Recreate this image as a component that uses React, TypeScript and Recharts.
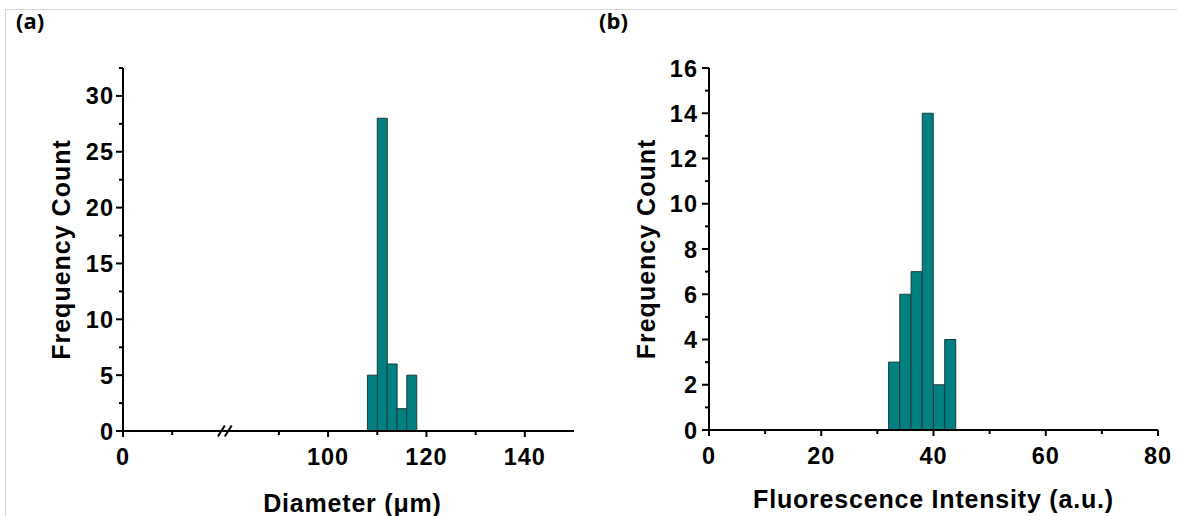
import React from 'react';
import { BarChart, Bar, XAxis, YAxis, ReferenceLine, Label } from 'recharts';

// ---------- Panel (a): Diameter histogram ----------
const diameterBinStart = [108, 110, 112, 114, 116];
const diameterCounts = [5, 28, 6, 2, 5];
const diameterBinWidth = 2;
const diameterMajorTicks = [0, 100, 120, 140];
const diameterMinorTicks = [10, 90, 110, 130];
const diameterBreakFrom = 20;
const diameterBreakTo = 80;
const diameterAxisMax = 150;
const countMaxA = 32.5;
const countMajorTicksA = [0, 5, 10, 15, 20, 25, 30];
const countMinorTicksA = [2.5, 7.5, 12.5, 17.5, 22.5, 27.5, 32.5];

// ---------- Panel (b): Fluorescence histogram ----------
const intensityBinStart = [32, 34, 36, 38, 40, 42];
const intensityCounts = [3, 6, 7, 14, 2, 4];
const intensityBinWidth = 2;
const intensityMajorTicks = [0, 20, 40, 60, 80];
const intensityMinorTicks = [10, 30, 50, 70];
const intensityAxisMax = 80;
const countMaxB = 16;
const countMajorTicksB = [0, 2, 4, 6, 8, 10, 12, 14, 16];
const countMinorTicksB = [1, 3, 5, 7, 9, 11, 13, 15];

// visual gap of the axis break, in axis units
const BREAK_GAP = 1.7;
const mapBroken = (v: number) =>
  v <= diameterBreakFrom ? v : v - (diameterBreakTo - diameterBreakFrom) + BREAK_GAP;
const unmapBroken = (t: number) =>
  t <= diameterBreakFrom ? t : t + (diameterBreakTo - diameterBreakFrom) - BREAK_GAP;

const dataA = diameterBinStart.map((s, i) => ({
  x: mapBroken(s + diameterBinWidth / 2),
  count: diameterCounts[i],
}));
const dataB = intensityBinStart.map((s, i) => ({
  x: s + intensityBinWidth / 2,
  count: intensityCounts[i],
}));

const FONT = "'Liberation Sans', Arial, Helvetica, sans-serif";
const BAR_FILL = '#008080';
const BAR_STROKE = '#1d3d3d';

const near = (arr: number[], v: number) => arr.some((m) => Math.abs(m - v) < 1e-6);

function makeXTick(majors: number[], fmt: (v: number) => string) {
  return (props: any) => {
    const { x, y, payload } = props;
    const v = payload.value as number;
    const isMajor = near(majors, v);
    return (
      <g>
        <line x1={x} x2={x} y1={y} y2={y + (isMajor ? 6 : 4)} stroke="#000" strokeWidth={2} />
        {isMajor && (
          <text
            x={x}
            y={y + 34}
            textAnchor="middle"
            fontFamily={FONT}
            fontWeight="bold"
            fontSize={23.5}
            letterSpacing={1}
            fill="#000"
          >
            {fmt(v)}
          </text>
        )}
      </g>
    );
  };
}

function makeYTick(majors: number[], gap: number) {
  return (props: any) => {
    const { x, y, payload } = props;
    const v = payload.value as number;
    const isMajor = near(majors, v);
    return (
      <g>
        <line x1={x - (isMajor ? 7 : 4)} x2={x} y1={y} y2={y} stroke="#000" strokeWidth={2} />
        {isMajor && (
          <text
            x={x - gap}
            y={y + 8.5}
            textAnchor="end"
            fontFamily={FONT}
            fontWeight="bold"
            fontSize={23.5}
            letterSpacing={1}
            fill="#000"
          >
            {String(v)}
          </text>
        )}
      </g>
    );
  };
}

const yTitle = (offsetX: number) => (props: any) => {
  const vb = props.viewBox;
  const cx = vb.x + offsetX;
  const cy = vb.y + vb.height / 2;
  return (
    <text
      x={cx}
      y={cy}
      transform={`rotate(-90, ${cx}, ${cy})`}
      textAnchor="middle"
      fontFamily={FONT}
      fontWeight="bold"
      fontSize={25}
      letterSpacing={1}
      fill="#000"
    >
      Frequency Count
    </text>
  );
};

const xTitle = (text: string, dx: number, baseline: number) => (props: any) => {
  const vb = props.viewBox;
  return (
    <text
      x={vb.x + vb.width / 2 + dx}
      y={vb.y + baseline}
      textAnchor="middle"
      fontFamily={FONT}
      fontWeight="bold"
      fontSize={25}
      letterSpacing={0.8}
      fill="#000"
    >
      {text}
    </text>
  );
};

const axisLineStyle = { stroke: '#000', strokeWidth: 2 };

export default function App() {
  const xTicksA = [...diameterMajorTicks, ...diameterMinorTicks]
    .map(mapBroken)
    .sort((a, b) => a - b);
  const xMajorsA = diameterMajorTicks.map(mapBroken);
  const yTicksA = [...countMajorTicksA, ...countMinorTicksA].sort((a, b) => a - b);
  const xTicksB = [...intensityMajorTicks, ...intensityMinorTicks].sort((a, b) => a - b);
  const yTicksB = [...countMajorTicksB, ...countMinorTicksB].sort((a, b) => a - b);

  const breakCenters = [mapBroken(diameterBreakFrom) + 0.0, mapBroken(diameterBreakFrom) + 1.4];

  return (
    <div style={{ position: 'absolute', left: 0, top: 0, width: 1177, height: 516, background: '#fff', overflow: 'hidden' }}>
      <div style={{ position: 'absolute', left: 0, top: 0 }}>
        <BarChart
          width={600}
          height={516}
          data={dataA}
          margin={{ top: 68, right: 26, bottom: 0, left: 0 }}
          barCategoryGap={0}
          barGap={0}
        >
          <XAxis
            dataKey="x"
            type="number"
            domain={[0, mapBroken(diameterAxisMax)]}
            ticks={xTicksA}
            interval={0}
            allowDataOverflow
            height={85}
            axisLine={axisLineStyle}
            tickLine={false}
            tickSize={0}
            tickMargin={0}
            tick={makeXTick(xMajorsA, (t) => String(Math.round(unmapBroken(t))))}
          >
            <Label content={xTitle('Diameter (μm)', 4, 80.5)} />
          </XAxis>
          <YAxis
            type="number"
            domain={[0, countMaxA]}
            ticks={yTicksA}
            interval={0}
            allowDataOverflow
            width={123}
            axisLine={axisLineStyle}
            tickLine={false}
            tickSize={0}
            tickMargin={0}
            tick={makeYTick(countMajorTicksA, 9)}
          >
            <Label content={yTitle(70)} />
          </YAxis>
          <Bar dataKey="count" fill={BAR_FILL} stroke={BAR_STROKE} strokeWidth={1} isAnimationActive={false} />
          {breakCenters.map((c, i) => (
            <ReferenceLine
              key={i}
              segment={[
                { x: c - 0.7, y: -0.5 },
                { x: c + 0.7, y: 0.5 },
              ]}
              stroke="#000"
              strokeWidth={2}
              ifOverflow="visible"
            />
          ))}
        </BarChart>
      </div>
      <div style={{ position: 'absolute', left: 600, top: 0 }}>
        <BarChart
          width={577}
          height={516}
          data={dataB}
          margin={{ top: 68, right: 19, bottom: 0, left: 0 }}
          barCategoryGap={0}
          barGap={0}
        >
          <XAxis
            dataKey="x"
            type="number"
            domain={[0, intensityAxisMax]}
            ticks={xTicksB}
            interval={0}
            allowDataOverflow
            height={86}
            axisLine={axisLineStyle}
            tickLine={false}
            tickSize={0}
            tickMargin={0}
            tick={makeXTick(intensityMajorTicks, (v) => String(v))}
          >
            <Label content={xTitle('Fluorescence Intensity (a.u.)', 0, 78)} />
          </XAxis>
          <YAxis
            type="number"
            domain={[0, countMaxB]}
            ticks={yTicksB}
            interval={0}
            allowDataOverflow
            width={109}
            axisLine={axisLineStyle}
            tickLine={false}
            tickSize={0}
            tickMargin={0}
            tick={makeYTick(countMajorTicksB, 11)}
          >
            <Label content={yTitle(55)} />
          </YAxis>
          <Bar dataKey="count" fill={BAR_FILL} stroke={BAR_STROKE} strokeWidth={1} isAnimationActive={false} />
        </BarChart>
      </div>
      <svg
        width={1177}
        height={516}
        style={{ position: 'absolute', left: 0, top: 0, pointerEvents: 'none' }}
      >
        <line x1={5} x2={1177} y1={9.5} y2={9.5} stroke="#d6d6d6" strokeWidth={1} />
        <line x1={5.5} x2={5.5} y1={9} y2={516} stroke="#d6d6d6" strokeWidth={1} />
        <text x={16} y={29} fontFamily="'Open Sans', sans-serif" fontWeight="bold" fontSize={22} fill="#000">
          (a)
        </text>
        <text x={599} y={29} fontFamily="'Open Sans', sans-serif" fontWeight="bold" fontSize={22} fill="#000">
          (b)
        </text>
      </svg>
    </div>
  );
}
